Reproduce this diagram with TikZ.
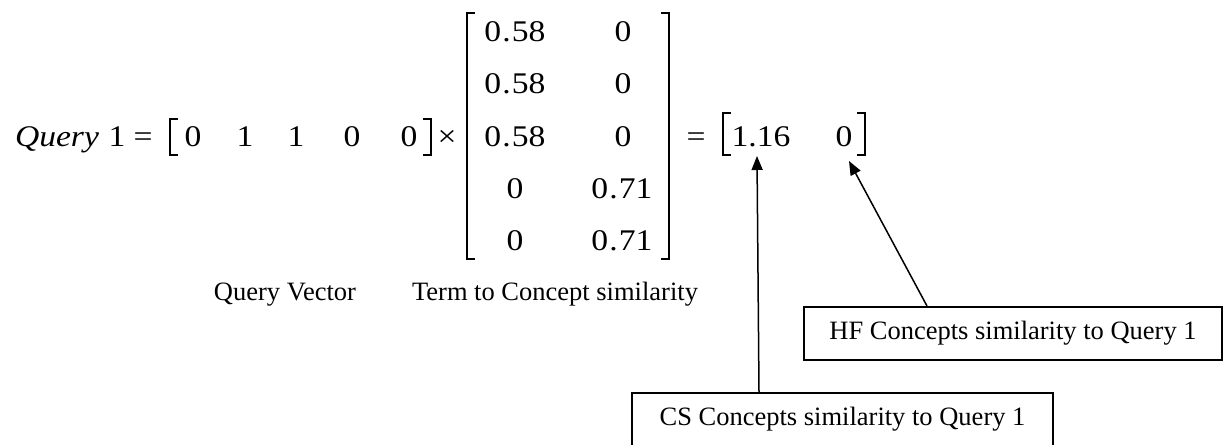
\documentclass[tikz,border=0pt]{standalone}
\usepackage{graphicx}
\usepackage{fontspec}
\setmainfont{Liberation Serif}
\usetikzlibrary{arrows.meta}

\begin{document}
\begin{tikzpicture}[
  entry/.style={anchor=base, inner sep=0pt, font=\simEqFont},
  caption/.style={anchor=base, inner sep=0pt, font=\simTextFont},
  simbox/.style={draw, line width=\simBoxLineWidth, font=\simTextFont, minimum height=26.5pt},
  bracket/.style={line width=\simBracketLineWidth, line join=miter},
  pointer/.style={line width=\simArrowLineWidth, -{Triangle[length=7pt,width=5.5pt]}}
]
% Query to concept similarity, laid out in pixel units
\def\pxsz{0.5pt}
\providecommand{\simEqFont}{\fontsize{15}{18}\selectfont}
\providecommand{\simTextFont}{\fontsize{13.25}{16}\selectfont}
\providecommand{\simBoxLineWidth}{1pt}
\providecommand{\simBracketLineWidth}{1.2pt}
\providecommand{\simArrowLineWidth}{0.75pt}
\providecommand{\wide}[1]{\scalebox{1.12}[1]{#1}}
\begin{scope}[x=\pxsz, y=-\pxsz]
  % Page frame
  \useasboundingbox (0,0) rectangle (1225,444);
  \clip (0,0) rectangle (1225,444);
  % Left hand side
  \node[entry] (query) at (57,147) {\wide{\itshape Query}};
  \node[entry] (qnum) at (117,147) {\wide{1}};
  \node[entry] (eqa) at (143,147) {\wide{=}};
  % Query vector
  \draw[bracket] (178,119) -- (170,119) -- (170,155) -- (178,155);
  \node[entry] (qv1) at (193,147) {\wide{0}};
  \node[entry] (qv2) at (245,147) {\wide{1}};
  \node[entry] (qv3) at (296,147) {\wide{1}};
  \node[entry] (qv4) at (352,147) {\wide{0}};
  \node[entry] (qv5) at (409,147) {\wide{0}};
  \draw[bracket] (423,119) -- (431,119) -- (431,155) -- (423,155);
  \node[entry] (times) at (447,147) {\wide{×}};
  % Term to concept matrix
  \draw[bracket] (475,13) -- (467,13) -- (467,259) -- (475,259);
  \node[entry] (tc11) at (515,42) {\wide{0\kern0.5pt.\kern0.5pt58}};
  \node[entry] (tc21) at (515,94) {\wide{0\kern0.5pt.\kern0.5pt58}};
  \node[entry] (tc31) at (515,147) {\wide{0\kern0.5pt.\kern0.5pt58}};
  \node[entry] (tc41) at (515,198) {\wide{0}};
  \node[entry] (tc51) at (515,250) {\wide{0}};
  \node[entry] (tc12) at (623,42) {\wide{0}};
  \node[entry] (tc22) at (623,94) {\wide{0}};
  \node[entry] (tc32) at (623,147) {\wide{0}};
  \node[entry] (tc42) at (622,198) {\wide{0\kern0.5pt.\kern0.5pt71}};
  \node[entry] (tc52) at (622,250) {\wide{0\kern0.5pt.\kern0.5pt71}};
  \draw[bracket] (661,13) -- (669,13) -- (669,259) -- (661,259);
  % Result vector
  \node[entry] (eqb) at (696,147) {\wide{=}};
  \draw[bracket] (731,113) -- (723,113) -- (723,155) -- (731,155);
  \node[entry] (res1) at (761,147) {\wide{1.16}};
  \node[entry] (res2) at (844,147) {\wide{0}};
  \draw[bracket] (857,113) -- (865,113) -- (865,155) -- (857,155);
  % Captions under the product
  \node[caption] (qvec) at (285,300) {Query Vector};
  \node[caption] (tcsim) at (555,300) {Term to Concept similarity};
  % Callout boxes
  \node[simbox, minimum width=209pt] (hf) at (1013,333.5) {HF Concepts similarity to Query 1};
  \node[simbox, minimum width=210.5pt] (cs) at (842.5,419.5) {CS Concepts similarity to Query 1};
  % Pointers
  \coordinate (dottip) at (757,156);
  \coordinate (zerotip) at (849,161);
  \draw[pointer] ([xshift=64pt]cs.north west) -- (dottip);
  \draw[pointer] ([xshift=62pt]hf.north west) -- (zerotip);
\end{scope}
\end{tikzpicture}
\end{document}
